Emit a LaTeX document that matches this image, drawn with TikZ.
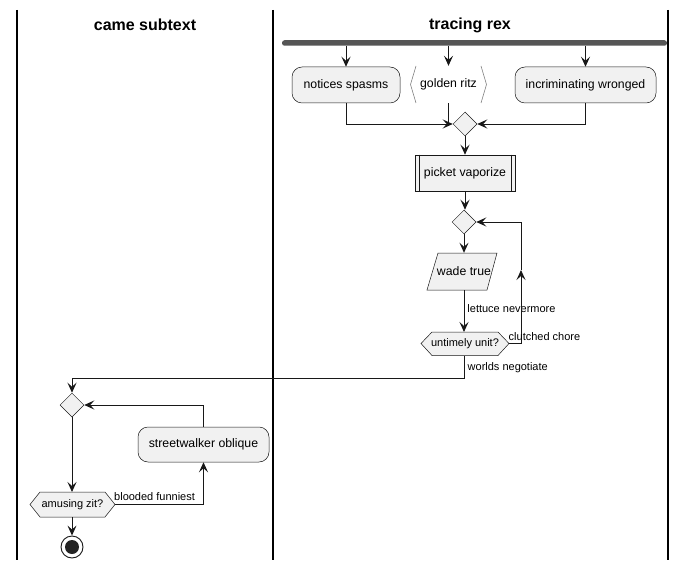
\documentclass[tikz,border=0pt]{standalone}
\usepackage{fontspec}
\setmainfont{Liberation Sans}
\usetikzlibrary{arrows.meta,shapes.geometric,calc}
\definecolor{nodefill}{HTML}{F1F1F1}
\definecolor{linec}{HTML}{181818}
\definecolor{borderc}{HTML}{181818}
\definecolor{barc}{HTML}{555555}
\tikzset{
  arr/.style={draw=linec, line width=0.9pt, -{Stealth[length=10pt,width=9pt,inset=4pt]}},
  ln/.style={draw=linec, line width=0.9pt},
  actbox/.style={draw=borderc, line width=0.5pt, fill=nodefill, rounded corners=10pt, inner sep=0pt, font=\fontsize{12.3}{14}\selectfont},
  subbox/.style={draw=borderc, line width=0.5pt, fill=nodefill, inner sep=0pt, font=\fontsize{12.3}{14}\selectfont},
  plain/.style={inner sep=0pt, font=\fontsize{12.3}{14}\selectfont},
  hexplain/.style={inner sep=0pt, font=\fontsize{11}{13}\selectfont},
  diam/.style={diamond, aspect=1, draw=borderc, line width=0.5pt, fill=nodefill, inner sep=0pt, minimum width=24pt, minimum height=24pt},
  lbl/.style={inner sep=0pt, font=\fontsize{11}{13}\selectfont},
  lanetitle/.style={inner sep=0pt, font=\fontsize{16}{18}\selectfont\bfseries},
  laneline/.style={draw=black, line width=1.3pt},
}
\begin{document}
\begin{tikzpicture}[x=1pt,y=-1pt]
\useasboundingbox (0,0) rectangle (690,569);
% lanes
\draw[laneline] (17,10) -- (17,560);
\draw[laneline] (273,10) -- (273,560);
\draw[laneline] (668,10) -- (668,560);
\node[lanetitle] (t1) at (145,25) {came subtext};
\node[lanetitle] (t2) at (470,25) {tracing rex};
% fork bar
\node[fill=barc, rounded corners=2.5pt, minimum width=385pt, minimum height=5.5pt, inner sep=0pt] (fork) at (474.5,43) {};
% top nodes
\node[actbox, minimum width=108pt, minimum height=36pt] (ns) at (346,85) {notices spasms};
\node[plain, minimum width=76pt, minimum height=37pt] (gr) at (448.5,84.5) {golden ritz};
\draw[draw=borderc!55, line width=0.6pt] (416,66) -- (410.5,84.5) -- (416,103);
\draw[draw=borderc!55, line width=0.6pt] (481,66) -- (486.5,84.5) -- (481,103);
\node[actbox, minimum width=141pt, minimum height=36pt] (iw) at (585.5,85) {incriminating wronged};
\node[diam] (d1) at (465,124) {};
\node[subbox, minimum width=100pt, minimum height=36pt] (pv) at (465,173) {picket vaporize};
\draw[draw=borderc, line width=0.5pt] ([xshift=4pt]pv.north west) -- ([xshift=4pt]pv.south west);
\draw[draw=borderc, line width=0.5pt] ([xshift=-4pt]pv.north east) -- ([xshift=-4pt]pv.south east);
\node[diam] (d2) at (464,222) {};
% wade true parallelogram
\draw[draw=borderc, line width=0.5pt, fill=nodefill] (438,253) -- (497,253) -- (487,290) -- (427,290) -- cycle;
\node[plain, minimum width=60pt, minimum height=37pt] (wt) at (464,271.5) {wade true};
% untimely unit hexagon
\draw[draw=borderc, line width=0.5pt, fill=nodefill] (421,343.5) -- (432,332) -- (498,332) -- (509,343.5) -- (498,355.5) -- (432,355.5) -- cycle;
\node[hexplain, minimum width=88pt, minimum height=23.5pt] (uu) at (465,343.75) {untimely unit?};
% left lane
\node[diam] (d3) at (72,405) {};
\node[actbox, minimum width=131pt, minimum height=35pt] (sw) at (203.5,444.5) {streetwalker oblique};
\draw[draw=borderc, line width=0.5pt, fill=nodefill] (30,504.5) -- (40,492) -- (105,492) -- (115,504.5) -- (105,517) -- (40,517) -- cycle;
\node[hexplain, minimum width=85pt, minimum height=25pt] (az) at (72.5,504.5) {amusing zit?};
\node[circle, draw=linec, line width=0.9pt, fill=white, minimum size=22pt, inner sep=0pt] (end) at (72,547) {};
\fill[linec!95] (end.center) circle (7pt);
% connectors
\draw[arr] (ns.north |- fork.south) -- (ns.north);
\draw[arr] (gr.north |- fork.south) -- (gr.north);
\draw[arr] (iw.north |- fork.south) -- (iw.north);
\draw[arr] (ns.south) -- (ns.south |- d1.west) -- (d1.west);
\draw[ln] (gr.south) -- (gr.south |- d1.west);
\draw[arr] (iw.south) -- (iw.south |- d1.east) -- (d1.east);
\draw[arr] (d1.south) -- (pv.north);
\draw[arr] (pv.south) -- (pv.south |- d2.north);
\draw[arr] (d2.south) -- (d2.south |- wt.north);
\draw[arr] (wt.south |- 0,290) -- (wt.south |- 0,332) node[lbl, anchor=west, pos=0.45, xshift=3pt] (l1) {lettuce nevermore};
\coordinate (cm) at (521,270);
\draw[arr] (509,343.5) -- (cm |- 0,343.5) -- (cm);
\draw[arr] (cm) -- (cm |- d2.east) -- (d2.east);
\node[lbl, anchor=west] (l2) at (508.5,337) {clutched chore};
\coordinate (cw) at (464,378);
\draw[arr] (464,355.5) -- (cw) -- (cw -| d3.north) -- (d3.north);
\node[lbl, anchor=west] (l3) at (467.5,368) {worlds negotiate};
\draw[arr] (sw.north) -- (sw.north |- d3.east) -- (d3.east);
\draw[arr] (d3.south) -- (72,492);
\draw[arr] (115,504.5) -- (sw.south |- 0,504.5) -- (sw.south);
\node[lbl, anchor=west] (l4) at (114,497) {blooded funniest};
\draw[arr] (72,517) -- (end.north);
\end{tikzpicture}
\end{document}
